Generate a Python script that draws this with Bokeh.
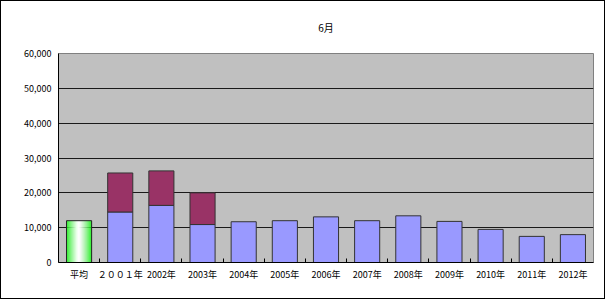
from bokeh.plotting import figure
from bokeh.models import FixedTicker, NumeralTickFormatter, Title, Range1d
from bokeh.embed import file_html
from bokeh.resources import INLINE

title_text = "6月"
categories = ["平均", "２００１年", "2002年", "2003年", "2004年", "2005年", "2006年",
              "2007年", "2008年", "2009年", "2010年", "2011年", "2012年"]
average_value = 12000
base_values = [0, 14500, 16400, 10900, 11700, 12000, 13100, 12000, 13400, 11800, 9500, 7500, 8000]
extra_values = [0, 11200, 9900, 9100, 0, 0, 0, 0, 0, 0, 0, 0, 0]
y_ticks = [0, 10000, 20000, 30000, 40000, 50000, 60000]

FONT = "Noto Sans CJK JP"
n = len(categories)
xs = list(range(n))
bar_w = 0.61

p = figure(width=605, height=299, output_backend="svg", toolbar_location=None,
           x_range=Range1d(-0.5, n - 0.5), y_range=Range1d(0, 60000),
           min_border_left=57, min_border_right=13, min_border_top=52, min_border_bottom=38)
p.styles = {"border": "1px solid black", "box-sizing": "border-box"}
p.background_fill_color = "#C0C0C0"
p.border_fill_color = "white"
p.outline_line_color = "#808080"
p.outline_line_width = 1

p.title = Title(text=title_text, align="center", vertical_align="top", text_font=FONT,
                text_font_size="10px", text_font_style="normal", text_color="black",
                standoff=34, offset=0)

# stacked bars
xb = xs[1:]
bb = base_values[1:]
eb = extra_values[1:]
top2 = [b + e for b, e in zip(bb, eb)]
p.vbar(x=xb, width=bar_w, bottom=0, top=bb, fill_color="#9999FF", line_color="#333333", line_width=1)
ex_x = [x for x, e in zip(xb, eb) if e > 0]
ex_b = [b for b, e in zip(bb, eb) if e > 0]
ex_t = [t2 for t2, e in zip(top2, eb) if e > 0]
p.vbar(x=ex_x, width=bar_w, bottom=ex_b, top=ex_t, fill_color="#993366", line_color="#333333", line_width=1)

# average bar with horizontal green-white-green gradient
steps = 24
sw = bar_w / steps
for i in range(steps):
    c = (i + 0.5) / steps
    d = abs(c - 0.5) * 2  # 0 center, 1 edge
    g = 1 - d ** 1.5
    r = int(round(255 * g))
    col = "#%02x%02x%02x" % (r, 255, r)
    p.vbar(x=[xs[0] - bar_w / 2 + c * bar_w], width=sw * 1.05, bottom=0, top=[average_value],
           fill_color=col, line_color=None)
p.vbar(x=[xs[0]], width=bar_w, bottom=0, top=[average_value], fill_color=None,
       line_color="#222222", line_width=1)

p.xgrid.visible = False
p.ygrid.ticker = FixedTicker(ticks=y_ticks)
p.ygrid.grid_line_color = "#1a1a1a"
p.ygrid.grid_line_width = 1
p.ygrid.level = "underlay"

ya = p.yaxis[0]
ya.ticker = FixedTicker(ticks=y_ticks)
ya.formatter = NumeralTickFormatter(format="0,0")
ya.major_tick_in = 0
ya.major_tick_out = 0
ya.minor_tick_line_color = None
ya.axis_line_color = "black"
ya.major_label_text_font = FONT
ya.major_label_text_font_size = "9px"
ya.major_label_text_color = "black"
ya.major_label_standoff = 7

xa = p.xaxis[0]
xa.ticker = FixedTicker(ticks=xs, minor_ticks=[x + 0.5 for x in xs[:-1]])
xa.major_label_overrides = {i: c for i, c in enumerate(categories)}
xa.major_tick_in = 0
xa.major_tick_out = 0
xa.minor_tick_in = 4
xa.minor_tick_out = 0
xa.minor_tick_line_color = "black"
xa.axis_line_color = "black"
xa.major_label_text_font = FONT
xa.major_label_text_font_size = "9px"
xa.major_label_text_color = "black"
xa.major_label_standoff = 5

open("out.html", "w").write(file_html(p, INLINE))
